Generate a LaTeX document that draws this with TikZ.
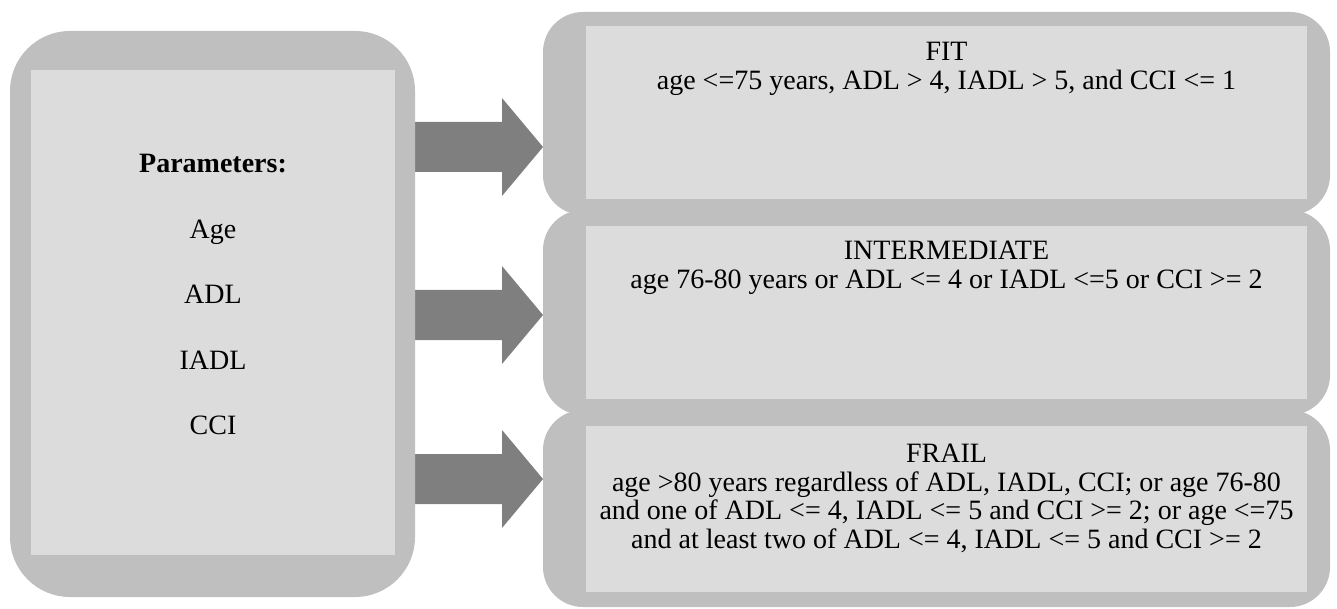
\documentclass[tikz,border=0pt]{standalone}
\usepackage{fontspec}
\setmainfont{Liberation Serif}
\usetikzlibrary{positioning}
\definecolor{outergray}{HTML}{BFBFBF}
\definecolor{innergray}{HTML}{DCDCDC}
\definecolor{arrowgray}{HTML}{7F7F7F}

\begin{document}
\begin{tikzpicture}[x=1pt,y=-1pt,
outerbox/.style={rectangle,fill=outergray,rounded corners=40pt,inner sep=0pt,outer sep=0pt},
innerbox/.style={rectangle,fill=innergray,inner sep=0pt,outer sep=0pt},
boxtext/.style={font=\fontsize{28}{28.5}\selectfont,align=center,inner sep=0pt,anchor=north},
bigarrow/.style={fill=arrowgray}]

\useasboundingbox (0,0) rectangle (1337,609);

% outer frames (right)
\node[outerbox,minimum width=787pt,minimum height=203pt] (fitOut) at (936.5,113.5) {};
\node[outerbox,minimum width=787pt,minimum height=205pt] (intOut) at (936.5,312.5) {};
\node[outerbox,minimum width=787pt,minimum height=197pt] (frailOut) at (936.5,508.5) {};

% block arrows
\foreach \yy/\tgt in {147/fitOut,315/intOut,479/frailOut}{
  \coordinate (tip) at (\tgt.west |- 0,\yy);
  \fill[bigarrow] (tip) -- ++(-41,-49) -- ++(0,24) -- ++(-92,0) -- ++(0,50) -- ++(92,0) -- ++(0,24) -- cycle;
}

% outer frame (left)
\node[outerbox,rounded corners=60pt,minimum width=405pt,minimum height=566pt] (parOut) at (212.5,314) {};

% inner panels
\node[innerbox,minimum width=364pt,minimum height=485pt] (parIn) at (213,312.5) {};
\node[innerbox,minimum width=721pt,minimum height=173pt] (fitIn) at (946.5,112.5) {};
\node[innerbox,minimum width=721pt,minimum height=173pt] (intIn) at (946.5,312.5) {};
\node[innerbox,minimum width=721pt,minimum height=166pt] (frailIn) at (946.5,509) {};

% texts
\node[boxtext] (parText) at (213,154) {\textbf{Parameters:}\\[37pt]Age\\[37pt]ADL\\[37pt]IADL\\[37pt]CCI};
\node[boxtext] (fitText) at (946.5,42) {FIT\\age <=75 years, ADL > 4, IADL > 5, and CCI <= 1};
\node[boxtext] (intText) at (946.5,241) {INTERMEDIATE\\age 76-80 years or ADL <= 4 or IADL <=5 or CCI >= 2};
\node[boxtext] (frailText) at (946.5,444) {FRAIL\\age >80 years regardless of ADL, IADL, CCI; or age 76-80\\and one of ADL <= 4, IADL <= 5 and CCI >= 2; or age <=75\\and at least two of ADL <= 4, IADL <= 5 and CCI >= 2};

\end{tikzpicture}
\end{document}
